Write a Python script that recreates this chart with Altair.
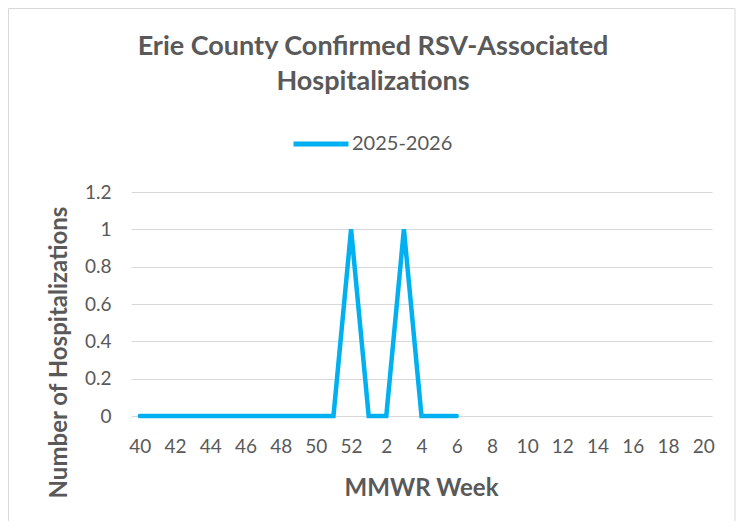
import altair as alt
import pandas as pd

# category order of MMWR weeks on the axis
week_order = [str(w) for w in range(40, 53)] + [str(w) for w in range(1, 21)]
# observed weeks and values
weeks = ["40", "41", "42", "43", "44", "45", "46", "47", "48", "49", "50", "51", "52",
         "1", "2", "3", "4", "5", "6"]
hosp = [0, 0, 0, 0, 0, 0, 0, 0, 0, 0, 0, 0, 1, 0, 0, 1, 0, 0, 0]
season = "2025-2026"
tick_labels = ["40", "42", "44", "46", "48", "50", "52", "2", "4", "6", "8", "10",
               "12", "14", "16", "18", "20"]
y_ticks = [0, 0.2, 0.4, 0.6, 0.8, 1.0, 1.2]
title_lines = ["Erie County Confirmed RSV-Associated", "Hospitalizations"]

df = pd.DataFrame({"week": weeks, "hosp": hosp, "season": [season] * len(weeks)})

FONT = "Lato"
GRAY = "#595959"
W, H = 581, 224
PL, PT = 123, 184

line = alt.Chart(df).mark_line(strokeWidth=4.5, strokeCap="round", strokeJoin="miter").encode(
    x=alt.X("week:O", sort=week_order,
            scale=alt.Scale(type="point", domain=week_order, padding=0.5),
            axis=alt.Axis(values=tick_labels, labelAngle=0, ticks=False, domain=False,
                          labelFontSize=19, labelColor=GRAY, labelFont=FONT, labelPadding=21,
                          title="MMWR Week", titleFontSize=24, titleFont=FONT, titleColor=GRAY,
                          titleFontWeight="bold", titleX=290, titleY=72, titleBaseline="middle")),
    y=alt.Y("hosp:Q", scale=alt.Scale(domain=[0, 1.2], nice=False),
            axis=alt.Axis(values=y_ticks, format="~g", ticks=False, domain=False,
                          gridColor="#D9D9D9", gridWidth=1,
                          labelFontSize=19, labelColor=GRAY, labelFont=FONT, labelPadding=20,
                          title="Number of Hospitalizations", titleFontSize=24, titleFont=FONT,
                          titleColor=GRAY, titleFontWeight="bold", titleAngle=270,
                          titleX=-72, titleY=160, titleBaseline="middle", titleAlign="center")),
    color=alt.Color("season:N", scale=alt.Scale(domain=[season], range=["#00B0F0"]),
                    legend=alt.Legend(title=None, orient="none", legendX=160, legendY=-78,
                                      symbolType="stroke", symbolSize=3025, symbolStrokeWidth=5,
                                      labelFontSize=20, labelColor=GRAY, labelFont=FONT,
                                      labelOffset=1)),
)

frame = alt.Chart(pd.DataFrame({"k": [0]})).mark_rect(
    fill=None, stroke="#D9D9D9", strokeWidth=1
).encode(x=alt.value(-122.5), x2=alt.value(604), y=alt.value(-183.5), y2=alt.value(345))

title = alt.Chart(pd.DataFrame({"k": [0]})).mark_text(
    text=title_lines, fontSize=27, font=FONT, color=GRAY, fontWeight="bold",
    align="center", baseline="middle", lineHeight=35
).encode(x=alt.value(242), y=alt.value(-145))

chart = alt.layer(frame, title, line).properties(
    width=W, height=H,
    autosize=alt.AutoSizeParams(type="none"),
    padding={"left": PL, "top": PT, "right": 728 - PL - W, "bottom": 513 - PT - H},
).configure_view(stroke=None)

chart.save("out.html", embed_options={"renderer": "svg", "actions": False})
